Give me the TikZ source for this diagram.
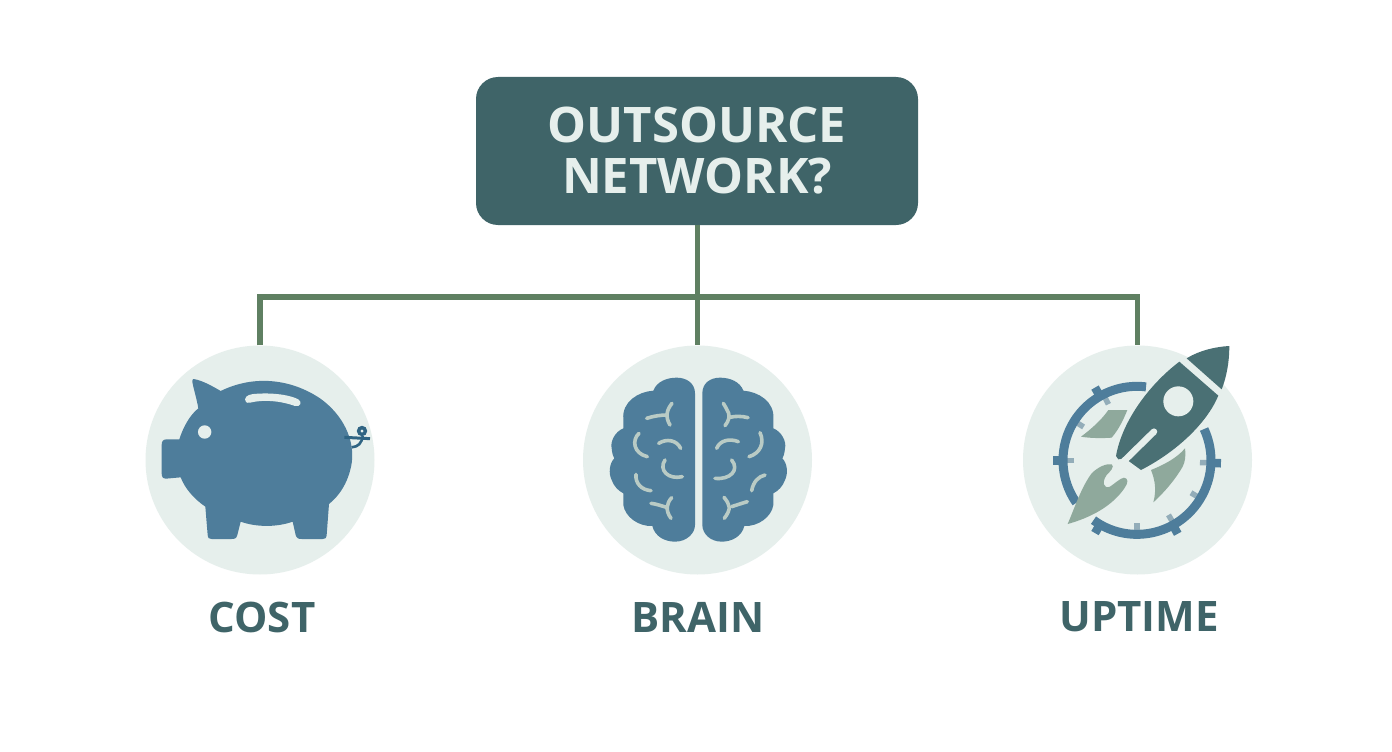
\documentclass[tikz,border=0pt]{standalone}
\usepackage{fontspec}
\setmainfont{Open Sans}
\definecolor{boxteal}{HTML}{3F6468}
\definecolor{linkgreen}{HTML}{5F8062}
\definecolor{diskmist}{HTML}{E6EFEC}
\definecolor{iconblue}{HTML}{4E7D9B}
\definecolor{sageleaf}{HTML}{8FA99C}
\definecolor{foldgrey}{HTML}{B9CBC5}
\definecolor{tickgrey}{HTML}{93ADB9}
\definecolor{tailblue}{HTML}{2F6483}
\definecolor{rocketteal}{HTML}{4A7074}
\tikzset{
  iconframe/.style={x=0.33333pt,y=-0.33333pt},
  disk/.style={circle,fill=diskmist,minimum size=229pt,inner sep=0pt},
  linkline/.style={draw=linkgreen,line width=5.5pt},
  caption/.style={text=boxteal,font=\bfseries\fontsize{42}{42}\selectfont,inner sep=0pt},
  fold/.style={draw=foldgrey,line width=3.6pt,line cap=round,line join=round}
}
\begin{document}
\begin{tikzpicture}[x=1pt,y=-1pt]
  \useasboundingbox[fill=white] (0,0) rectangle (1392,752);
  \node[fill=boxteal,rounded corners=22pt,minimum width=442pt,minimum height=148pt,inner sep=0pt,
    align=center,text=diskmist,font=\bfseries\fontsize{49}{51}\selectfont] (question) at (697,151) {OUTSOURCE\\NETWORK?};
  \node[disk] (costdisk) at (260,460) {};
  \node[disk] (braindisk) at (697.5,460) {};
  \node[disk] (uptimedisk) at (1137.5,460) {};
  \coordinate (railmid) at (697.5,297);
  \draw[linkline] (question.south -| braindisk) -- (braindisk.north);
  \draw[linkline] (costdisk.north) |- (railmid) -| (uptimedisk.north);
  \node[caption] (costlabel) at (262,617) {COST};
  \node[caption] (brainlabel) at (698,617) {BRAIN};
  \node[caption] (uptimelabel) at (1139,617) {UPTIME};
  % piggy bank
  \begin{scope}[shift={(130,330)},iconframe]
    \fill[iconblue] (190,147) .. controls (215,150) and (250,170) .. (272,183)
      .. controls (370,135) and (480,145) .. (570,205)
      .. controls (640,255) and (675,330) .. (665,400)
      .. controls (655,460) and (625,500) .. (597,522)
      -- (590,615) .. controls (589,625) and (585,627) .. (578,627)
      -- (515,627) .. controls (505,627) and (500,625) .. (497,615)
      -- (488,575) .. controls (440,592) and (380,592) .. (332,575)
      -- (322,615) .. controls (319,625) and (315,627) .. (305,627)
      -- (245,627) .. controls (238,627) and (234,625) .. (233,615)
      -- (226,530) .. controls (190,505) and (165,475) .. (152,442)
      -- (108,446) .. controls (98,446) and (95,440) .. (95,430)
      -- (95,345) .. controls (95,333) and (100,328) .. (110,328)
      -- (148,328) .. controls (160,290) and (180,255) .. (205,235)
      .. controls (200,205) and (190,175) .. (187,155)
      .. controls (187,150) and (188,147) .. (190,147) -- cycle;
    \fill[diskmist] (345,208) .. controls (348,195) and (360,192) .. (385,191)
      .. controls (430,188) and (480,195) .. (505,208)
      .. controls (517,216) and (512,232) .. (495,228)
      .. controls (450,212) and (400,208) .. (360,218)
      .. controls (350,220) and (344,215) .. (345,208) -- cycle;
    \fill[diskmist] (224,306) circle[radius=6.7pt];
    \draw[tailblue,line width=3pt] (643,322) -- (720,326);
    \draw[tailblue,line width=2.6pt] (665,352) .. controls (685,350) and (695,340) .. (698,318);
    \draw[tailblue,line width=3.4pt] (696,303) circle[radius=3.4pt];
  \end{scope}
  % brain
  \begin{scope}[shift={(570,330)},iconframe]
    \fill[iconblue] (375,190) .. controls (375,160) and (350,143) .. (320,143)
      .. controls (290,143) and (260,155) .. (250,182)
      .. controls (205,185) and (155,215) .. (160,268)
      -- (160,295) .. controls (135,305) and (120,335) .. (125,355)
      .. controls (126,370) and (130,380) .. (133,385)
      .. controls (118,400) and (115,430) .. (125,450)
      .. controls (132,470) and (145,482) .. (160,490)
      -- (160,525) .. controls (165,560) and (205,590) .. (247,588)
      .. controls (255,620) and (285,635) .. (315,635)
      .. controls (350,635) and (375,610) .. (375,585) -- cycle;
    \fill[iconblue] (397,190) .. controls (397,160) and (420,143) .. (450,143)
      .. controls (480,143) and (510,155) .. (520,182)
      .. controls (565,185) and (615,215) .. (610,268)
      -- (610,295) .. controls (635,305) and (650,335) .. (645,355)
      .. controls (644,370) and (640,380) .. (637,385)
      .. controls (652,400) and (655,430) .. (645,450)
      .. controls (638,470) and (625,482) .. (610,490)
      -- (610,525) .. controls (605,560) and (565,590) .. (523,588)
      .. controls (515,620) and (485,635) .. (455,635)
      .. controls (420,635) and (397,610) .. (397,585) -- cycle;
    % left folds
    \draw[fold] (230,265) .. controls (250,258) and (275,255) .. (290,255);
    \draw[fold] (306,220) .. controls (290,240) and (285,260) .. (300,285);
    \draw[fold] (207,310) .. controls (185,330) and (190,370) .. (232,380);
    \draw[fold] (266,340) .. controls (290,325) and (320,330) .. (332,355);
    \draw[fold] (285,390) .. controls (265,420) and (295,450) .. (337,440);
    \draw[fold] (198,433) .. controls (195,460) and (215,480) .. (243,482);
    \draw[fold] (243,520) .. controls (260,522) and (275,528) .. (290,532);
    \draw[fold] (305,503) .. controls (290,520) and (285,540) .. (303,565);
    % right folds
    \draw[fold] (534,263) .. controls (515,258) and (495,258) .. (480,262);
    \draw[fold] (460,220) .. controls (470,240) and (490,255) .. (465,287);
    \draw[fold] (570,308) .. controls (585,340) and (570,370) .. (537,380);
    \draw[fold] (505,335) .. controls (480,325) and (450,330) .. (440,355);
    \draw[fold] (485,390) .. controls (510,420) and (480,450) .. (435,445);
    \draw[fold] (585,435) .. controls (565,440) and (550,455) .. (545,482);
    \draw[fold] (532,515) .. controls (515,520) and (500,525) .. (485,530);
    \draw[fold] (462,502) .. controls (480,525) and (485,535) .. (463,565);
  \end{scope}
  % rocket over a clock ring
  \begin{scope}[shift={(1010,330)},iconframe]
    \coordinate (ringc) at (381,391);
    \foreach \a in {180,148,117,-2,-31,-60,-90} {
      \draw[tickgrey,line width=5.5pt] (ringc) ++(\a:63pt) -- ++(\a:9pt);
    }
    \draw[iconblue,line width=9pt] (ringc) ++(83:74pt) arc[start angle=83,end angle=215,radius=74pt];
    \draw[iconblue,line width=9pt] (ringc) ++(234:74pt) arc[start angle=234,end angle=385,radius=74pt];
    \foreach \a in {180,120,-2,-120,-61} {
      \draw[iconblue,line width=8.5pt] (ringc) ++(\a:72pt) -- ++(\a:12pt);
    }
    \fill[sageleaf] (295,240) -- (352,240) .. controls (340,270) and (325,300) .. (305,323)
      .. controls (280,325) and (240,325) .. (213,320) .. controls (240,300) and (275,270) .. (295,240) -- cycle;
    \fill[sageleaf] (525,355) .. controls (528,380) and (525,395) .. (518,410)
      .. controls (495,450) and (460,490) .. (430,517) .. controls (440,480) and (435,450) .. (423,420)
      .. controls (460,405) and (500,385) .. (525,355) -- cycle;
    \fill[sageleaf] (173,582) .. controls (195,530) and (215,470) .. (245,430)
      .. controls (265,410) and (290,400) .. (305,403)
      .. controls (315,410) and (300,425) .. (290,435)
      .. controls (275,455) and (280,478) .. (300,470)
      .. controls (315,460) and (330,445) .. (342,443)
      .. controls (355,445) and (355,458) .. (345,472)
      .. controls (320,510) and (270,555) .. (173,582) -- cycle;
    \fill[rocketteal] (530,85) .. controls (570,60) and (620,50) .. (658,48)
      .. controls (658,95) and (650,140) .. (635,178) -- cycle;
    \fill[rocketteal] (508,95) -- (625,197)
      .. controls (590,280) and (500,365) .. (393,420)
      -- (345,385) -- (325,388) -- (318,378)
      .. controls (335,280) and (410,170) .. (508,95) -- cycle;
    \draw[diskmist,line width=6.5pt,line cap=round] (432,305) -- (335,400);
    \fill[diskmist] (505,214) circle[radius=15pt];
  \end{scope}
\end{tikzpicture}
\end{document}
